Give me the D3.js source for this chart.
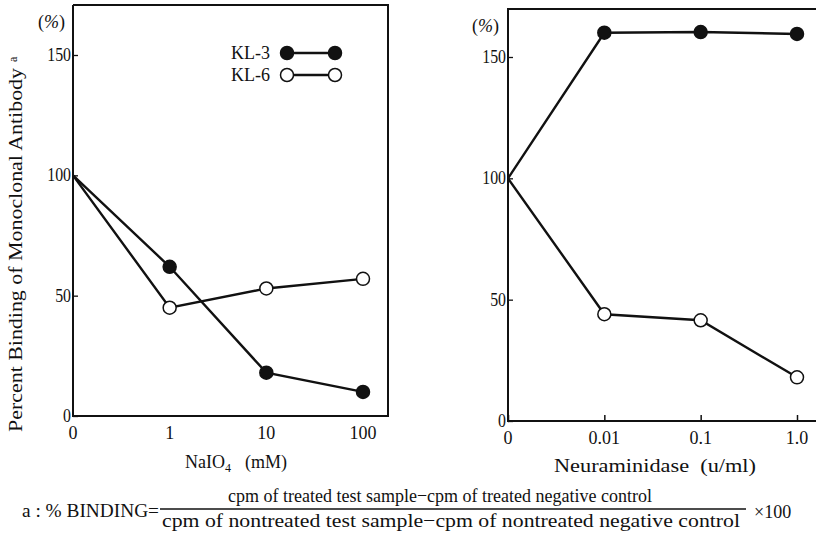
<!DOCTYPE html>
<html>
<head>
<meta charset="utf-8">
<script src="https://cdn.jsdelivr.net/npm/d3@7"></script>
<style>
  body { margin: 0; background: #fff; }
  svg text { white-space: pre; }
</style>
</head>
<body>
<svg width="816" height="537" font-family="'Liberation Serif', 'Times New Roman', serif"></svg>
<script>
// left panel: NaIO4 treatment
var naio4Doses = ["0", "1", "10", "100"];
var naio4KL3 = [100, 62, 18, 10];
var naio4KL6 = [100, 45, 53, 57];

// right panel: neuraminidase treatment
var neuraDoses = ["0", "0.01", "0.1", "1.0"];
var neuraKL3 = [100, 160, 160.3, 159.5];
var neuraKL6 = [100, 44, 41.5, 18];

var yTicks = [0, 50, 100, 150];

var svg = d3.select("svg");
var ink = "#111";

function panel(opts) {
  var x = d3.scalePoint().domain(opts.doses).range(opts.xr).padding(0);
  var y = d3.scaleLinear().domain([0, 150]).range(opts.yr);
  var g = svg.append("g");

  // frame
  g.append("path")
    .attr("d", opts.frame)
    .attr("fill", "none")
    .attr("stroke", ink)
    .attr("stroke-width", 2);

  // y axis, ticks point inward
  var ya = g.append("g")
    .attr("transform", "translate(" + opts.xr[0] + ",0)")
    .call(d3.axisRight(y).tickValues(yTicks).tickSize(5).tickFormat(""));
  ya.select(".domain").remove();
  ya.selectAll("line").attr("stroke", ink).attr("stroke-width", 1.3);
  g.selectAll(".ylab").data(yTicks).enter().append("text")
    .attr("x", opts.xr[0] - 2)
    .attr("y", d => y(d) + 6)
    .attr("text-anchor", "end")
    .attr("font-size", 18)
    .attr("fill", ink)
    .attr("transform", d => "translate(" + (opts.xr[0] - 2) * 0.12 + ",0) scale(0.88,1)")
    .text(d => d);

  // x axis
  var xa = g.append("g")
    .attr("transform", "translate(0," + opts.yr[0] + ")")
    .call(d3.axisTop(x).tickSize(opts.xtick).tickFormat(""));
  xa.select(".domain").remove();
  xa.selectAll("line").attr("stroke", ink).attr("stroke-width", 1.5);
  g.selectAll(".xlab").data(opts.doses).enter().append("text")
    .attr("x", d => x(d))
    .attr("y", opts.yr[0] + 23)
    .attr("text-anchor", "middle")
    .attr("font-size", 18)
    .attr("fill", ink)
    .text(d => d);

  var pct = g.append("text")
    .attr("x", opts.pctX)
    .attr("y", opts.pctY)
    .attr("font-size", 18)
    .attr("fill", ink);
  pct.append("tspan").text("(");
  pct.append("tspan").attr("font-style", "italic").text("%");
  pct.append("tspan").text(")");

  var line = d3.line().x((d, i) => x(opts.doses[i])).y(d => y(d));

  [opts.kl3, opts.kl6].forEach(function(vals) {
    g.append("path")
      .datum(vals)
      .attr("d", line)
      .attr("fill", "none")
      .attr("stroke", ink)
      .attr("stroke-width", 2.4);
  });
  [opts.kl6, opts.kl3].forEach(function(vals, k) {
    g.selectAll(null).data(vals.slice(1)).enter().append("circle")
      .attr("cx", (d, i) => x(opts.doses[i + 1]))
      .attr("cy", d => y(d))
      .attr("r", 6.5)
      .attr("fill", k == 1 ? ink : "#fff")
      .attr("stroke", ink)
      .attr("stroke-width", 1.5);
  });
  return g;
}

panel({
  doses: naio4Doses, kl3: naio4KL3, kl6: naio4KL6,
  xr: [73, 363], yr: [416, 55],
  frame: "M73,5V416H388V5H73",
  xtick: 0,
  pctX: 38, pctY: 28
});

panel({
  doses: neuraDoses, kl3: neuraKL3, kl6: neuraKL6,
  xr: [508, 797], yr: [421, 57],
  frame: "M830,9H508V421H830",
  xtick: 6,
  pctX: 472, pctY: 32
});

// legend
var legend = [{name: "KL-3", fill: ink, y: 53}, {name: "KL-6", fill: "#fff", y: 75}];
var lg = svg.append("g");
legend.forEach(function(d) {
  lg.append("text").attr("x", 270).attr("y", d.y + 6).attr("text-anchor", "end")
    .attr("font-size", 18).attr("fill", ink).text(d.name);
  lg.append("line").attr("x1", 287).attr("x2", 335).attr("y1", d.y).attr("y2", d.y)
    .attr("stroke", ink).attr("stroke-width", 2.4);
  [287, 335].forEach(function(cx) {
    lg.append("circle").attr("cx", cx).attr("cy", d.y).attr("r", 6.5)
      .attr("fill", d.fill).attr("stroke", ink).attr("stroke-width", 1.5);
  });
});

// axis titles
svg.append("text")
  .attr("transform", "translate(22,250) rotate(-90)")
  .attr("text-anchor", "middle")
  .attr("font-size", 18)
  .attr("fill", ink)
  .attr("textLength", 364)
  .attr("lengthAdjust", "spacingAndGlyphs")
  .text("Percent Binding of Monoclonal Antibody");
svg.append("text")
  .attr("transform", "translate(17,62) rotate(-90)")
  .attr("font-size", 12)
  .attr("fill", ink)
  .text("a");

var t1 = svg.append("text").attr("x", 236).attr("y", 468).attr("text-anchor", "middle")
  .attr("font-size", 18).attr("fill", ink);
t1.append("tspan").text("NaIO");
t1.append("tspan").attr("font-size", 12).attr("dy", 4).text("4");
t1.append("tspan").attr("dy", -4).attr("dx", 14).text("(mM)");

svg.append("text").attr("x", 655).attr("y", 472).attr("text-anchor", "middle")
  .attr("font-size", 19).attr("fill", ink)
  .attr("textLength", 202).attr("lengthAdjust", "spacingAndGlyphs")
  .text("Neuraminidase  (u/ml)");

// footnote formula
svg.append("text").attr("x", 22).attr("y", 517).attr("font-size", 18).attr("fill", ink)
  .attr("textLength", 137).attr("lengthAdjust", "spacingAndGlyphs")
  .text("a : % BINDING=");
svg.append("line").attr("x1", 160).attr("x2", 746).attr("y1", 509).attr("y2", 509)
  .attr("stroke", ink).attr("stroke-width", 1.3);
svg.append("text").attr("x", 228).attr("y", 502)
  .attr("font-size", 19).attr("fill", ink)
  .attr("textLength", 424).attr("lengthAdjust", "spacingAndGlyphs")
  .text("cpm of treated test sample\u2212cpm of treated negative control");
svg.append("text").attr("x", 162).attr("y", 527)
  .attr("font-size", 19).attr("fill", ink)
  .attr("textLength", 578).attr("lengthAdjust", "spacingAndGlyphs")
  .text("cpm of nontreated test sample\u2212cpm of nontreated negative control");
svg.append("text").attr("x", 754).attr("y", 518).attr("font-size", 18).attr("fill", ink)
  .text("\u00d7100");
</script>
</body>
</html>
